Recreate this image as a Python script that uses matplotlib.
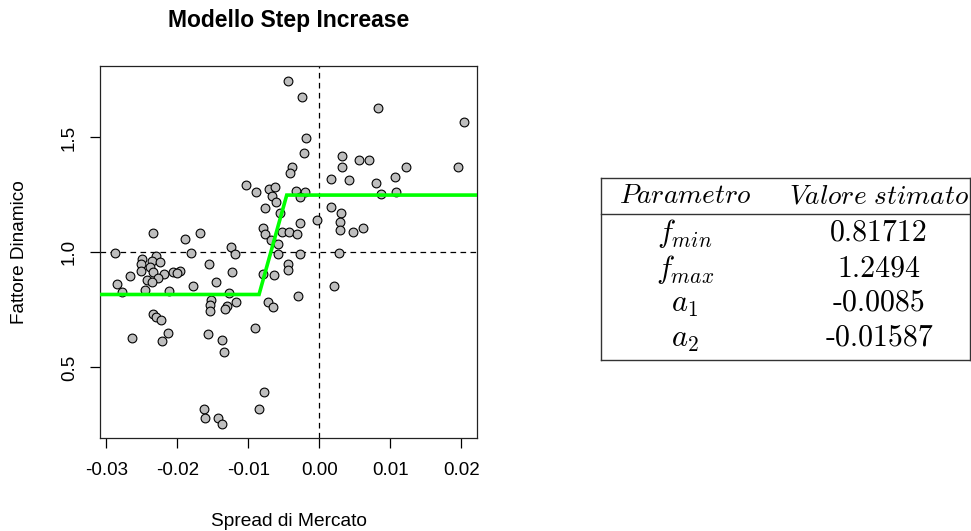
import matplotlib
matplotlib.use("Agg")
import matplotlib.pyplot as plt
from matplotlib.lines import Line2D

plt.rcParams['font.family'] = ['Liberation Sans', 'DejaVu Sans']
plt.rcParams['mathtext.fontset'] = 'cm'

# ---------------- data ----------------
spread = [
    -0.00447, -0.00239, -0.00187, -0.00222, -0.00388, -0.00408, -0.01031, -0.00895,
    -0.00714, -0.00623, -0.00661, -0.00609, -0.00764, -0.00560, -0.00335, -0.00201,
    -0.00271, -0.00039, -0.00271, -0.00796, -0.00764, -0.00525, -0.00422, -0.00318,
    -0.00679, -0.00581, -0.00581, -0.00271, 0.00273, -0.00440, -0.00440, 0.00207,
    -0.00304, 0.00826, 0.02031, 0.00319, 0.00319, 0.00558, 0.00703, 0.01219,
    0.01947, 0.00165, 0.00422, 0.00797, 0.01065, 0.00864, 0.01079, 0.00165,
    0.00305, 0.00291, 0.00291, 0.00470, 0.00610, -0.02339, -0.01896, -0.01682,
    -0.02878, -0.01812, -0.01238, -0.01186, -0.02297, -0.02498, -0.02364, -0.02250,
    -0.02508, -0.02391, -0.02508, -0.02350, -0.02674, -0.02194, -0.02269, -0.02065,
    -0.01966, -0.02001, -0.02428, -0.02353, -0.02850, -0.02779, -0.02456, -0.02114,
    -0.01776, -0.01561, -0.01232, -0.00796, -0.00640, -0.01457, -0.01270, -0.01526,
    -0.01537, -0.01544, -0.01298, -0.01326, -0.01169, -0.00717, -0.00658, -0.02339,
    -0.02297, -0.02226, -0.02138, -0.02217, -0.02639, -0.01575, -0.01373, -0.01340,
    -0.00904, -0.00778, -0.00844, -0.01632, -0.01608, -0.01421, -0.01373,
]
fattore = [
    1.747, 1.675, 1.497, 1.434, 1.373, 1.344, 1.293, 1.262,
    1.274, 1.283, 1.246, 1.218, 1.194, 1.173, 1.268, 1.263,
    1.239, 1.143, 1.127, 1.108, 1.080, 1.089, 1.089, 1.079,
    1.054, 1.035, 0.991, 0.991, 0.996, 0.949, 0.923, 0.854,
    0.812, 1.627, 1.566, 1.418, 1.370, 1.402, 1.402, 1.372,
    1.372, 1.320, 1.315, 1.303, 1.330, 1.256, 1.262, 1.199,
    1.173, 1.131, 1.098, 1.089, 1.105, 1.085, 1.058, 1.083,
    0.997, 0.997, 1.023, 0.995, 0.985, 0.970, 0.963, 0.957,
    0.951, 0.938, 0.921, 0.914, 0.896, 0.906, 0.890, 0.917,
    0.921, 0.910, 0.880, 0.870, 0.862, 0.830, 0.837, 0.833,
    0.854, 0.949, 0.917, 0.907, 0.901, 0.870, 0.824, 0.792,
    0.770, 0.747, 0.765, 0.752, 0.786, 0.786, 0.764, 0.734,
    0.720, 0.704, 0.649, 0.615, 0.630, 0.644, 0.620, 0.566,
    0.670, 0.393, 0.320, 0.320, 0.279, 0.279, 0.253,
]

f_min = 0.81712
f_max = 1.2494
a1 = -0.0085
step_end = -0.0046          # end of the ramp
x_lo, x_hi = -0.0309, 0.0222
y_lo, y_hi = 0.193, 1.812

x_ticks = [-0.03, -0.02, -0.01, 0.00, 0.01, 0.02]
x_tick_labels = ["-0.03", "-0.02", "-0.01", "0.00", "0.01", "0.02"]
y_ticks = [0.5, 1.0, 1.5]
y_tick_labels = ["0.5", "1.0", "1.5"]

table_header = ["Parametro", "Valore stimato"]
param_names = [r"$f_{min}$", r"$f_{max}$", r"$a_1$", r"$a_2$"]
param_values = ["0.81712", "1.2494", "-0.0085", "-0.01587"]

# ---------------- figure ----------------
W, H = 971, 531
fig = plt.figure(figsize=(W / 100, H / 100), dpi=100)

def fx(px):
    return px / W

def fy(py):
    return 1 - py / H

ax = fig.add_axes([fx(100), fy(438), fx(477) - fx(100), fy(65.7) - fy(438)])

ax.axhline(1.0, color='black', lw=0.9, ls=(0, (4.5, 3.5)), zorder=1)
ax.axvline(0.0, color='black', lw=0.9, ls=(0, (4.5, 3.5)), zorder=1)

ax.scatter(spread, fattore, s=40, facecolor='#BEBEBE', edgecolor='black',
           linewidths=0.8, zorder=2)

line_x = [x_lo, a1, step_end, x_hi]
line_y = [f_min, f_min, f_max, f_max]
ax.plot(line_x, line_y, color='#00FF00', lw=2.6, zorder=3, solid_joinstyle='miter')

ax.set_xlim(x_lo, x_hi)
ax.set_ylim(y_lo, y_hi)
ax.set_xticks(x_ticks)
ax.set_xticklabels(x_tick_labels, fontsize=13.5)
ax.set_yticks(y_ticks)
ax.set_yticklabels(y_tick_labels, fontsize=13.5, rotation=90, va='center')
ax.tick_params(axis='both', direction='out', length=7, width=0.9, color='black')
ax.tick_params(axis='x', pad=10)
ax.tick_params(axis='y', pad=9)
for sp in ax.spines.values():
    sp.set_linewidth(0.9)
    sp.set_color('#222222')

fig.text(fx(289), fy(20), "Modello Step Increase", ha='center', va='center',
         fontsize=16.5, fontweight='bold')
fig.text(fx(289), fy(521), "Spread di Mercato", ha='center', va='center', fontsize=13.8)
fig.text(fx(20), fy(252), "Fattore Dinamico", ha='center', va='center',
         fontsize=13.7, rotation=90)

# ---------------- table ----------------
tl, tr, tt, tb, th = 601, 969.5, 177.5, 360, 213.5
for (x0, y0, x1, y1) in [(tl, tt, tr, tt), (tl, tb, tr, tb), (tl, tt, tl, tb),
                         (tr, tt, tr, tb), (tl, th, tr, th)]:
    fig.add_artist(Line2D([fx(x0), fx(x1)], [fy(y0), fy(y1)], color='#333333',
                          lw=1.0, transform=fig.transFigure))

col1, col2 = 685, 879
fs_head = 19.7
fs_val = 21.5
fs_name = 22
fig.text(fx(col1), fy(196), r"$\mathit{" + table_header[0] + "}$", ha='center',
         va='center', fontsize=fs_head)
fig.text(fx(col2), fy(196), r"$\mathit{" + table_header[1].replace(" ", r"\ ") + "}$",
         ha='center', va='center', fontsize=fs_head)
row_y = [234, 269.5, 304, 339]
for name, val, ry in zip(param_names, param_values, row_y):
    fig.text(fx(col1), fy(ry), name, ha='center', va='center', fontsize=fs_name)
    fig.text(fx(col2), fy(ry - 1), val, ha='center', va='center', fontsize=fs_val,
             family='cmr10')

fig.savefig("out.png", dpi=100)
